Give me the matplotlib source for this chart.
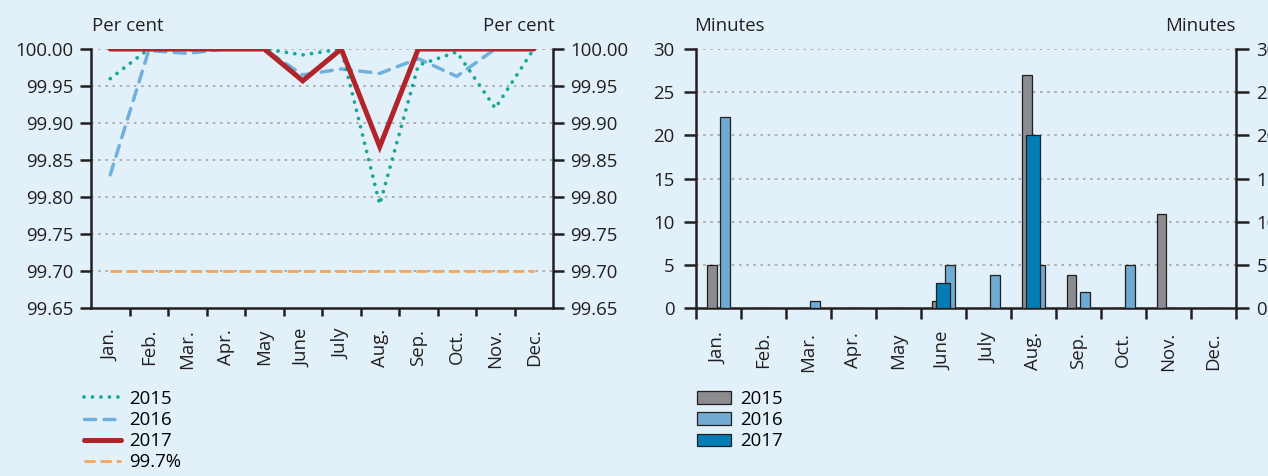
import numpy as np
import matplotlib
matplotlib.use('Agg')
import matplotlib.pyplot as plt

plt.rcParams['font.family'] = ['Open Sans', 'DejaVu Sans']

# --------------------------
# Data
# --------------------------
months = ['Jan.', 'Feb.', 'Mar.', 'Apr.', 'May', 'June', 'July', 'Aug.', 'Sep.', 'Oct.', 'Nov.', 'Dec.']

avail_2015 = [99.96, 100.0, 100.0, 100.0, 100.0, 99.992, 100.0, 99.79, 99.978, 99.996, 99.92, 100.0]
avail_2016 = [99.83, 99.998, 99.994, 100.0, 100.0, 99.965, 99.973, 99.967, 99.987, 99.963, 100.0, 100.0]
avail_2017 = [100.0, 100.0, 100.0, 100.0, 100.0, 99.957, 100.0, 99.868, 100.0, 100.0, 100.0, 100.0]
target = [99.7] * 12

minutes_2015 = [5, 0, 0, 0, 0, 0.9, 0, 27, 3.9, 0, 10.9, 0]
minutes_2016 = [22.1, 0, 0.9, 0, 0, 5, 3.9, 5, 1.9, 5, 0, 0]
minutes_2017 = [0, 0, 0, 0, 0, 2.9, 0, 20, 0, 0, 0, 0]

left_ticks = [99.65, 99.70, 99.75, 99.80, 99.85, 99.90, 99.95, 100.00]
right_ticks = [0, 5, 10, 15, 20, 25, 30]

bg = '#e2f1f9'
ink = '#231f20'
grid_c = '#a3a3a3'
W, H = 1268, 476
fig = plt.figure(figsize=(W / 100, H / 100), dpi=100, facecolor=bg)


def px(x0, y_top, x1, y_bot):
    return [x0 / W, 1 - y_bot / H, (x1 - x0) / W, (y_bot - y_top) / H]


x = np.arange(12)
fs = 13.4

# --------------------------
# Left panel: availability
# --------------------------
ax1 = fig.add_axes(px(91, 49, 553, 308))
ax1.set_facecolor(bg)
ax1.plot(x, target, color='#f6a55b', lw=2.0, dashes=(4, 1.8), label='99.7%', zorder=2)
ax1.plot(x, avail_2016, color='#70b0de', lw=2.5, dashes=(3.2, 2.4), dash_capstyle='round',
         label='2016', zorder=3)
ax1.plot(x, avail_2015, color='#14a897', lw=2.7, linestyle=(0, (0.01, 2.25)),
         dash_capstyle='round', label='2015', zorder=4)
ax1.plot(x, avail_2017, color='#b0242a', lw=3.6, label='2017', solid_capstyle='round',
         solid_joinstyle='miter', zorder=5)
ax1.set_xlim(-0.5, 11.5)
ax1.set_ylim(99.65, 100.0)
ax1.set_yticks(left_ticks)
ax1.set_yticklabels(['%.2f' % v for v in left_ticks], fontsize=fs, color=ink)
ax1.set_xticks(x)
ax1.set_xticklabels(months, rotation=90, fontsize=fs, color=ink)
ax1.set_xticks(np.arange(0.5, 11.5, 1), minor=True)
ax1.tick_params(axis='x', which='major', length=0, pad=15)
ax1.tick_params(axis='x', which='minor', direction='out', length=6, width=1.8, colors=ink)
ax1.tick_params(axis='y', which='major', direction='out', length=8, width=1.8, colors=ink,
                left=True, right=True, labelleft=True, labelright=True, pad=4.5)
for yv in left_ticks[1:]:
    ax1.axhline(yv, color=grid_c, lw=1.2, linestyle=(0, (1.5, 2.8)), zorder=1)
ax1.spines['top'].set_visible(False)
for s in ['left', 'right', 'bottom']:
    ax1.spines[s].set_linewidth(1.8)
    ax1.spines[s].set_color(ink)
fig.text(92 / W, 1 - 26 / H, 'Per cent', fontsize=fs, va='center', ha='left', color=ink)
fig.text(555 / W, 1 - 26 / H, 'Per cent', fontsize=fs, va='center', ha='right', color=ink)

h, l = ax1.get_legend_handles_labels()
order = [2, 1, 3, 0]
fig.legend([h[i] for i in order], [l[i] for i in order], loc='upper left',
           bbox_to_anchor=(84 / W, 1 - 390 / H), frameon=False, fontsize=fs,
           handlelength=2.0, handletextpad=0.4, labelspacing=0.17, borderaxespad=0,
           borderpad=0)

# --------------------------
# Right panel: minutes
# --------------------------
ax2 = fig.add_axes(px(695.7, 49, 1235.5, 308.3))
ax2.set_facecolor(bg)
ax2.bar(x - 0.145, minutes_2015, width=0.22, color='#8b8b90', edgecolor=ink, lw=0.9,
        label='2015', zorder=3)
ax2.bar(x + 0.145, minutes_2016, width=0.22, color='#70aad2', edgecolor=ink, lw=0.9,
        label='2016', zorder=3)
ax2.bar(x, minutes_2017, width=0.30, color='#037db3', edgecolor=ink, lw=0.9,
        label='2017', zorder=4)
ax2.set_xlim(-0.5, 11.5)
ax2.set_ylim(0, 30)
ax2.set_yticks(right_ticks)
ax2.set_yticklabels([str(v) for v in right_ticks], fontsize=fs, color=ink)
ax2.set_xticks(x)
ax2.set_xticklabels(months, rotation=90, fontsize=fs, color=ink)
ax2.set_xticks(np.arange(-0.5, 12, 1), minor=True)
ax2.tick_params(axis='x', which='major', length=0, pad=17)
ax2.tick_params(axis='x', which='minor', direction='out', length=8, width=1.8, colors=ink)
ax2.tick_params(axis='y', which='major', direction='out', length=9, width=1.8, colors=ink,
                left=True, right=True, labelleft=True, labelright=True, pad=6)
for yv in right_ticks[1:]:
    ax2.axhline(yv, color=grid_c, lw=1.2, linestyle=(0, (1.5, 2.8)), zorder=1)
ax2.spines['top'].set_visible(False)
for s in ['left', 'right', 'bottom']:
    ax2.spines[s].set_linewidth(1.8)
    ax2.spines[s].set_color(ink)
fig.text(694 / W, 1 - 26 / H, 'Minutes', fontsize=fs, va='center', ha='left', color=ink)
fig.text(1236 / W, 1 - 26 / H, 'Minutes', fontsize=fs, va='center', ha='right', color=ink)

fig.legend(*ax2.get_legend_handles_labels(), loc='upper left',
           bbox_to_anchor=(697 / W, 1 - 390 / H), frameon=False, fontsize=fs,
           handlelength=1.85, handleheight=0.65, handletextpad=0.45, labelspacing=0.17,
           borderaxespad=0, borderpad=0)

fig.savefig('out.png', dpi=100, facecolor=bg)
